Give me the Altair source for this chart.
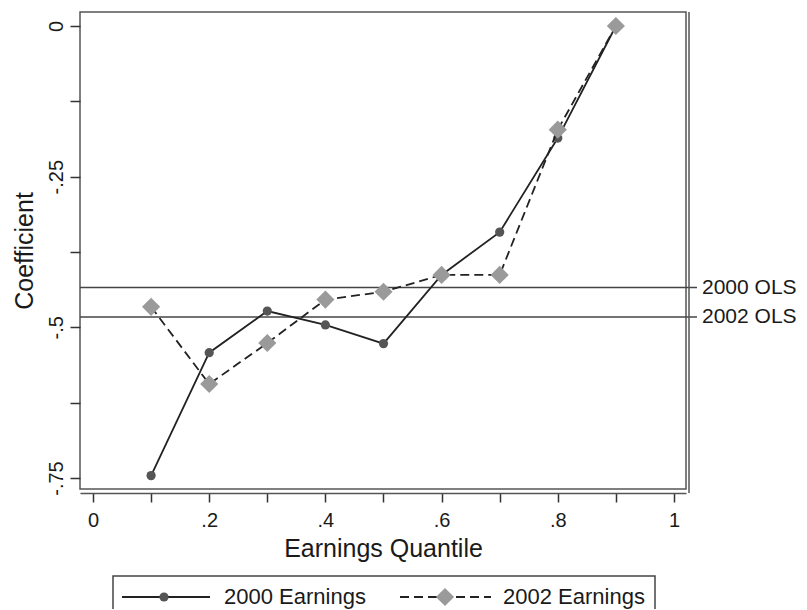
import altair as alt
import pandas as pd

# ---- data ----
quantiles = [0.1, 0.2, 0.3, 0.4, 0.5, 0.6, 0.7, 0.8, 0.9]
coef_2000 = [-0.746, -0.542, -0.473, -0.496, -0.527, -0.413, -0.342, -0.186, 0.0]
coef_2002 = [-0.466, -0.594, -0.526, -0.454, -0.441, -0.413, -0.413, -0.172, 0.0]
series_names = ["2000 Earnings", "2002 Earnings"]

ols_values = [-0.434, -0.483]
ols_labels = ["2000 OLS", "2002 OLS"]

x_tick_values = [0, 0.1, 0.2, 0.3, 0.4, 0.5, 0.6, 0.7, 0.8, 0.9, 1]
x_tick_labels = ["0", "", ".2", "", ".4", "", ".6", "", ".8", "", "1"]
y_tick_values = [0, -0.125, -0.25, -0.375, -0.5, -0.625, -0.75]
y_tick_labels = ["0", "", "-.25", "", "-.5", "", "-.75"]

x_domain = [-0.0224, 1.0207]
y_domain = [-0.7682, 0.0232]


def label_expr(values, labels):
    expr = "''"
    for v, l in reversed(list(zip(values, labels))):
        expr = f"(abs(datum.value - ({v})) < 1e-6 ? '{l}' : {expr})"
    return expr


FONT = "Liberation Sans"
INK = "#1a1a1a"

df = pd.DataFrame({
    "q": quantiles * 2,
    "coef": coef_2000 + coef_2002,
    "series": [series_names[0]] * len(quantiles) + [series_names[1]] * len(quantiles),
})
ols_df = pd.DataFrame({"value": ols_values, "label": ols_labels})

x_enc = alt.X(
    "q:Q",
    scale=alt.Scale(domain=x_domain, nice=False, zero=False),
    axis=alt.Axis(
        values=x_tick_values,
        labelExpr=label_expr(x_tick_values, x_tick_labels),
        title="Earnings Quantile",
        grid=False,
        domain=True,
        domainColor="#555",
        domainWidth=1.5,
        offset=4,
        tickSize=9,
        tickColor="#333",
        tickWidth=1.5,
        labelFont=FONT,
        labelFontSize=20,
        labelColor=INK,
        labelPadding=8,
        labelFlush=False,
        titleFont=FONT,
        titleFontSize=25,
        titleFontWeight="normal",
        titleColor=INK,
        titlePadding=6,
    ),
)
y_enc = alt.Y(
    "coef:Q",
    scale=alt.Scale(domain=y_domain, nice=False, zero=False),
    axis=alt.Axis(
        values=y_tick_values,
        labelExpr=label_expr(y_tick_values, y_tick_labels),
        title="Coefficient",
        grid=False,
        domain=False,
        tickSize=10,
        tickColor="#333",
        tickWidth=1.5,
        labelAngle=270,
        labelAlign="center",
        labelBaseline="bottom",
        labelFont=FONT,
        labelFontSize=20,
        labelColor=INK,
        labelPadding=4,
        labelFlush=False,
        titleFont=FONT,
        titleFontSize=25,
        titleFontWeight="normal",
        titleColor=INK,
        titlePadding=9,
    ),
)

base = alt.Chart(df)

line2000 = base.transform_filter(alt.datum.series == series_names[0]).mark_line(
    color="#222", strokeWidth=1.8
).encode(x=x_enc, y=y_enc)
pts2000 = base.transform_filter(alt.datum.series == series_names[0]).mark_point(
    shape="circle", filled=True, color="#555", size=85, opacity=1
).encode(x="q:Q", y="coef:Q")
line2002 = base.transform_filter(alt.datum.series == series_names[1]).mark_line(
    color="#222", strokeWidth=1.8, strokeDash=[9, 5]
).encode(x="q:Q", y="coef:Q")
pts2002 = base.transform_filter(alt.datum.series == series_names[1]).mark_point(
    shape="diamond", filled=True, color="#9a9a9a", size=330, opacity=1
).encode(x="q:Q", y="coef:Q")

ols_rules = alt.Chart(ols_df).mark_rule(color="#444", strokeWidth=1.5).encode(
    x=alt.value(0), x2=alt.value(617), y=alt.Y("value:Q")
)
ols_text = alt.Chart(ols_df).mark_text(
    align="left", baseline="middle", font=FONT, fontSize=21, color=INK
).encode(x=alt.value(622), y=alt.Y("value:Q"), text="label:N")

right_line = alt.Chart(ols_df.head(1)).mark_rule(color="#555", strokeWidth=1.5).encode(
    x=alt.value(609), y=alt.value(0), y2=alt.value(481)
)

# ---- hand-built legend (Stata style) ----
leg_df = pd.DataFrame({"label": series_names})
leg_y = 585
leg_box = alt.Chart(leg_df.head(1)).mark_rect(
    fill="white", stroke="#444", strokeWidth=1.5
).encode(x=alt.value(33), x2=alt.value(575), y=alt.value(564), y2=alt.value(640))
leg_line1 = alt.Chart(leg_df.head(1)).mark_rule(color="#222", strokeWidth=1.8).encode(
    x=alt.value(42), x2=alt.value(130), y=alt.value(leg_y)
)
leg_pt1 = alt.Chart(leg_df.head(1)).mark_point(
    shape="circle", filled=True, color="#555", size=85, opacity=1
).encode(x=alt.value(84), y=alt.value(leg_y))
leg_txt1 = alt.Chart(leg_df.head(1)).mark_text(
    align="left", baseline="middle", font=FONT, fontSize=22, color=INK
).encode(x=alt.value(144), y=alt.value(leg_y), text="label:N")
leg_line2 = alt.Chart(leg_df.tail(1)).mark_rule(
    color="#222", strokeWidth=1.8, strokeDash=[9, 5]
).encode(x=alt.value(320), x2=alt.value(411), y=alt.value(leg_y))
leg_pt2 = alt.Chart(leg_df.tail(1)).mark_point(
    shape="diamond", filled=True, color="#9a9a9a", size=330, opacity=1
).encode(x=alt.value(365), y=alt.value(leg_y))
leg_txt2 = alt.Chart(leg_df.tail(1)).mark_text(
    align="left", baseline="middle", font=FONT, fontSize=22, color=INK
).encode(x=alt.value(423), y=alt.value(leg_y), text="label:N")

chart = alt.layer(
    ols_rules, ols_text, right_line,
    line2000, pts2000, line2002, pts2002,
    leg_box, leg_line1, leg_pt1, leg_txt1, leg_line2, leg_pt2, leg_txt2,
).properties(
    width=606,
    height=477,
    autosize=alt.AutoSizeParams(type="none"),
    padding={"left": 72, "top": 4, "right": 113, "bottom": 120},
    background="white",
).configure_view(
    stroke="#555", strokeWidth=1.5
)

chart.save("out.html", embed_options={"renderer": "svg", "actions": False})
